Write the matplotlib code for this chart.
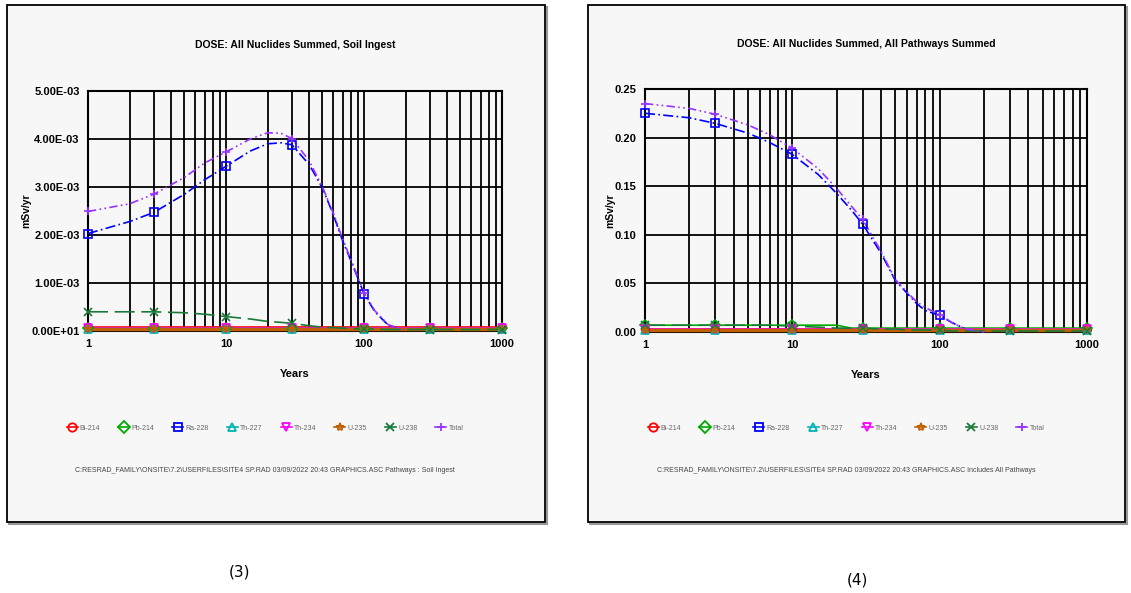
"""RESRAD dose plots: soil ingestion vs. all pathways."""

import matplotlib
matplotlib.use("Agg")
import matplotlib.pyplot as plt
from matplotlib.patches import Rectangle
from matplotlib.ticker import FixedLocator, LogLocator, NullFormatter

plt.rcParams["font.family"] = ["Liberation Sans Narrow", "Liberation Sans", "DejaVu Sans"]

nan = float("nan")

# time grid the curves were read at (years)
years = [1, 2, 3, 5, 7, 10, 15, 20, 25, 30, 40, 50, 60, 70, 80, 100, 120, 150, 200, 300, 1000]
marker_years = [1, 3, 10, 30, 100, 300, 1000]

nuclides = ["Bi-214", "Pb-214", "Ra-228", "Th-227", "Th-234", "U-235", "U-238", "Total"]

# panel (3): soil ingestion, mSv/yr  (nan = curve not drawn there)
soil = {
    "Bi-214": [8e-5] * 21,
    "Pb-214": [6e-5] * 21,
    "Ra-228": [2.03e-3, 2.28e-3, 2.47e-3, 2.85e-3, 3.15e-3, 3.43e-3, 3.75e-3, 3.90e-3, 3.92e-3, 3.88e-3,
               3.47e-3, 2.98e-3, 2.42e-3, 1.88e-3, 1.48e-3, 0.78e-3, 0.40e-3, 0.12e-3, 0.01e-3, nan, nan],
    "Th-227": [5e-5] * 21,
    "Th-234": [7e-5] * 21,
    "U-235": [5e-5] * 21,
    "U-238": [0.40e-3, 0.40e-3, 0.40e-3, 0.38e-3, 0.35e-3, 0.30e-3, 0.25e-3, 0.20e-3, 0.18e-3, 0.16e-3,
              0.11e-3, 0.08e-3, 0.07e-3, 0.06e-3, 0.05e-3, 0.04e-3, 0.04e-3, 0.03e-3, 0.03e-3, 0.03e-3, 0.03e-3],
    "Total": [2.49e-3, 2.65e-3, 2.85e-3, 3.20e-3, 3.50e-3, 3.73e-3, 4.00e-3, 4.13e-3, 4.12e-3, 4.01e-3,
              3.55e-3, 3.00e-3, 2.45e-3, 1.92e-3, 1.50e-3, 0.80e-3, 0.42e-3, 0.13e-3, 0.02e-3, nan, nan],
}

# panel (4): all pathways summed, mSv/yr
allpath = {
    "Bi-214": [3e-3] * 21,
    "Pb-214": [7e-3] * 8 + [4e-3] * 13,
    "Ra-228": [0.225, 0.2204, 0.2146, 0.2046, 0.195, 0.1827, 0.162, 0.1425, 0.126, 0.111,
               0.081, 0.053, 0.040, 0.029, 0.022, 0.017, 0.010, 0.003, 0.0, nan, nan],
    "Th-227": [2e-3] * 21,
    "Th-234": [3e-3] * 21,
    "U-235": [2e-3] * 21,
    "U-238": [7e-3, 7e-3, 7e-3, 7e-3, 7e-3, 6e-3, 5e-3, 4e-3, 4e-3, 4e-3,
              3e-3, 3e-3, 2e-3, 2e-3, 2e-3, 2e-3, 1e-3, 1e-3, 1e-3, 1e-3, 1e-3],
    "Total": [0.235, 0.230, 0.224, 0.213, 0.203, 0.189, 0.168, 0.1477, 0.130, 0.1158,
              0.083, 0.054, 0.041, 0.031, 0.025, 0.018, 0.010, 0.003, 0.0, nan, nan],
}

soil_yticks = [0, 1e-3, 2e-3, 3e-3, 4e-3, 5e-3]
soil_ylabels = ["0.00E+01", "1.00E-03", "2.00E-03", "3.00E-03", "4.00E-03", "5.00E-03"]
all_yticks = [0, 0.05, 0.10, 0.15, 0.20, 0.25]
all_ylabels = ["0.00", "0.05", "0.10", "0.15", "0.20", "0.25"]

styles = {
    "Bi-214": dict(color="#ff0000", marker="o", ls="-", lw=1.2),
    "Pb-214": dict(color="#00aa00", marker="D", ls="-", lw=1.2),
    "Ra-228": dict(color="#0000ff", marker="s", ls=(0, (6, 2, 1, 2)), lw=1.2),
    "Th-227": dict(color="#00b4b4", marker="^", ls="-", lw=1.2),
    "Th-234": dict(color="#ff00ff", marker="v", ls="-", lw=1.2),
    "U-235": dict(color="#c06000", marker="*", ls="-", lw=2.5),
    "U-238": dict(color="#1a7a3a", marker="x", ls=(0, (12, 4)), lw=1.2),
    "Total": dict(color="#9933ff", marker="+", ls=(0, (5, 2, 1, 2, 1, 2)), lw=1.2),
}

fig = plt.figure(figsize=(11.31, 5.93), dpi=100)
W, H = 1131, 593


def px_rect(x0, y0, x1, y1):
    return [x0 / W, 1 - y1 / H, (x1 - x0) / W, (y1 - y0) / H]


def draw_panel(box, axbox, data, yticks, ylabels, ymax, title, footer, cx, tpad):
    bx = px_rect(*box)
    fig.patches.append(Rectangle((bx[0] + 2 / W, bx[1] - 2 / H), bx[2], bx[3], transform=fig.transFigure,
                                 facecolor="none", edgecolor="#999999", lw=1.5, zorder=-2))
    fig.patches.append(Rectangle((bx[0], bx[1]), bx[2], bx[3], transform=fig.transFigure,
                                 facecolor="#f7f7f7", edgecolor="black", lw=1.3, zorder=-1))
    ax = fig.add_axes(px_rect(*axbox))
    ax.set_facecolor("#f7f7f7")
    ax.set_xscale("log")
    ax.set_xlim(1, 1000)
    ax.set_ylim(0, ymax)
    ax.xaxis.set_major_locator(FixedLocator([1, 10, 100, 1000]))
    ax.xaxis.set_minor_locator(LogLocator(base=10, subs=range(2, 10)))
    ax.xaxis.set_minor_formatter(NullFormatter())
    ax.set_xticks([1, 10, 100, 1000], ["1", "10", "100", "1000"], fontweight="bold", fontsize=8)
    ax.set_yticks(yticks, ylabels, fontweight="bold", fontsize=8)
    ax.grid(which="both", axis="x", color="black", lw=1.3)
    ax.grid(which="major", axis="y", color="black", lw=1.3)
    ax.tick_params(which="both", length=0, pad=6)
    for s in ax.spines.values():
        s.set_linewidth(1.5)
    ax.set_axisbelow(True)

    for name in nuclides:
        st = styles[name]
        vals = data[name]
        ax.plot(years, vals, color=st["color"], ls=st["ls"], lw=st["lw"], clip_on=False, zorder=3)
        mvals = [vals[years.index(t)] for t in marker_years]
        ax.plot(marker_years, mvals, ls="none", marker=st["marker"], color=st["color"],
                mfc="none", mew=1.2, ms=5.5, clip_on=False, zorder=4)

    ax.set_xlabel("Years", fontweight="bold", fontsize=8, labelpad=14)
    ax.set_ylabel("mSv/yr", fontweight="bold", fontsize=7.5, labelpad=0)
    ax.set_title(title, fontweight="bold", fontsize=7.5, pad=tpad)

    handles = []
    for name in nuclides:
        st = styles[name]
        h, = ax.plot([], [], color=st["color"], marker=st["marker"], mfc="none", mew=1.3, ms=6,
                     ls="-", lw=1.2, label=name)
        handles.append(h)
    fig.legend(handles=handles, loc="center", bbox_to_anchor=(cx / W, 1 - 428 / H), ncol=8,
               frameon=False, fontsize=5, handlelength=1.6, handletextpad=0.3, columnspacing=2.6,
               labelcolor="#666666")
    fig.text(cx / W, 1 - 470 / H, footer, ha="center", va="center", fontsize=5, color="#444444")
    return ax


draw_panel((7, 5, 545, 522), (88, 91, 502, 331), soil, soil_yticks, soil_ylabels, 5e-3,
           "DOSE: All Nuclides Summed, Soil Ingest",
           "C:RESRAD_FAMILY\\ONSITE\\7.2\\USERFILES\\SITE4 SP.RAD 03/09/2022 20:43 GRAPHICS.ASC Pathways : Soil Ingest",
           265, 31)
draw_panel((588, 5, 1125, 522), (645, 89, 1087, 332), allpath, all_yticks, all_ylabels, 0.25,
           "DOSE: All Nuclides Summed, All Pathways Summed",
           "C:RESRAD_FAMILY\\ONSITE\\7.2\\USERFILES\\SITE4 SP.RAD 03/09/2022 20:43 GRAPHICS.ASC Includes All Pathways",
           846, 30)

fig.text(240 / W, 1 - 572 / H, "(3)", ha="center", va="center", fontsize=11, family="DejaVu Sans")
fig.text(857 / W, 1 - 580 / H, "(4)", ha="center", va="center", fontsize=11, family="DejaVu Sans")

fig.savefig("out.png", dpi=100, facecolor="white")
